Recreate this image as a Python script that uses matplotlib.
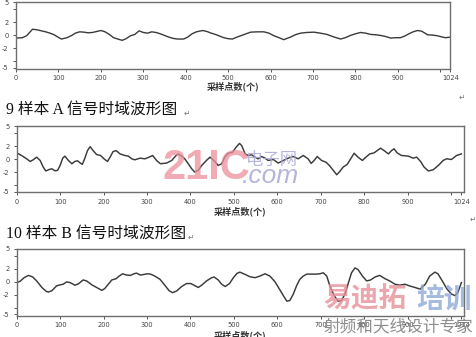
import matplotlib
matplotlib.use('Agg')
import matplotlib.pyplot as plt

# ---------------- data ----------------
x_ticks = [0, 100, 200, 300, 400, 500, 600, 700, 800, 900, 1000, 1024]
x_tick_labels = ['0', '100', '200', '300', '400', '500', '600', '700', '800', '900', '', '1024']
y_ticks = [-5, -4, -2, 0, 2, 4, 5]
y_tick_labels = ['-5', '', '-2', '0', '2', '', '5']

x_label = '采样点数(个)'
caption_a = '9 样本 A 信号时域波形图'
caption_b = '10 样本 B 信号时域波形图'

# top waveform (unlabelled in reference)
x1 = [0, 15, 25, 39, 50, 60, 70, 80, 90, 100, 107, 120, 130, 140, 150, 160, 170, 180, 190, 200,
      210, 220, 230, 240, 250, 258, 270, 280, 290, 300, 310, 320, 330, 340, 350, 360, 370, 380, 395, 405,
      415, 425, 440, 450, 460, 470, 480, 490, 500, 510, 521, 553, 570, 584, 596, 608, 620, 631, 647, 660,
      671, 685, 702, 717, 733, 750, 765, 776, 788, 800, 812, 824, 836, 848, 859, 870, 883, 895, 906, 916,
      926, 936, 946, 956, 970, 982, 993, 1005, 1012, 1024]
y1 = [-0.45, -0.4, -0.1, 0.9, 0.8, 0.65, 0.5, 0.3, 0.05, -0.35, -0.6, -0.4, -0.1, 0.3, 0.5, 0.45, 0.35, 0.4, 0.55, 0.7,
      0.5, 0.1, -0.4, -0.6, -0.8, -0.6, -0.1, 0.1, 0.65, 0.4, 0.3, 0.5, 0.4, 0.2, -0.05, -0.3, -0.5, -0.6, -0.6, -0.3,
      0.2, 0.5, 0.7, 0.55, 0.3, 0.1, -0.15, -0.4, -0.55, -0.6, -0.3, 0.45, 0.5, 0.5, 0.3, -0.1, -0.4, -0.7, -0.3, 0.1,
      0.3, 0.4, 0.45, 0.3, 0.1, -0.3, -0.6, -0.4, -0.05, 0.2, 0.4, 0.3, 0.1, 0.05, -0.05, -0.2, -0.45, -0.4, -0.4, -0.15,
      0.2, 0.5, 0.7, 0.6, 0.05, 0.0, -0.1, -0.3, -0.4, -0.3]

# sample A
x2 = [0, 11, 23, 31, 38, 46, 54, 61, 67, 75, 81, 88, 94, 100, 106, 111, 119, 127, 134, 140,
      146, 151, 157, 163, 169, 176, 184, 193, 201, 209, 215, 222, 229, 238, 249, 257, 265, 272, 284, 295,
      303, 313, 322, 331, 345, 357, 367, 372, 380, 387, 395, 403, 410, 418, 426, 437, 445, 454, 464, 472,
      479, 487, 497, 505, 513, 518, 526, 533, 541, 549, 556, 564, 572, 579, 591, 602, 614, 625, 637, 648,
      660, 671, 678, 685, 692, 702, 712, 720, 729, 737, 744, 752, 761, 769, 777, 786, 796, 804, 813, 823,
      830, 838, 846, 856, 863, 869, 876, 886, 902, 913, 921, 930, 938, 948, 959, 971, 982, 990, 1001, 1013,
      1024]
y2 = [0.96, 0.56, 0.05, -0.35, -0.1, 0.3, -0.2, -1.2, -1.8, -1.57, -1.47, -1.77, -1.72, -0.96, 0.15, 0.46, -0.2, -0.7, -0.35, -0.25,
      -0.56, -0.8, 0.15, 1.3, 1.9, 1.3, 0.7, 0.56, 0.05, -0.35, 0.3, 1.16, 1.3, 0.8, 0.56, 0.46, 0.05, -0.1, 0.15, 0.05,
      0.25, 0.56, -0.2, -0.7, -0.6, -0.2, 0.56, 0.8, 0.46, 0.05, -0.7, -1.47, -1.97, -1.72, -0.96, -0.2, 0.3, -0.2, -0.96, -0.7,
      0.3, 0.9, 1.06, 1.8, 2.4, 2.07, 0.8, 0.56, 0.66, 0.3, 0.05, 0.4, 0.15, -0.2, -0.05, -0.6, -0.2, 0.15, 0.4, 0.05,
      0.56, 0.05, -0.65, -0.2, 0.4, -0.2, -0.46, -0.96, -1.72, -2.38, -1.87, -1.2, -0.8, 0.05, 0.9, 0.3, -0.2, 0.3, 0.8, 0.96,
      1.3, 1.67, 1.3, 0.8, 1.3, 1.57, 0.96, 0.56, 0.46, 0.15, 0.3, -0.35, -1.2, -1.8, -1.62, -0.96, -0.2, 0.05, -0.05, 0.56,
      0.8]

# sample B
x3 = [0, 8, 17, 27, 37, 46, 58, 68, 73, 81, 92, 100, 107, 115, 123, 134, 142, 153, 161, 173,
      184, 196, 203, 211, 219, 229, 236, 244, 253, 262, 270, 276, 285, 293, 301, 308, 318, 330, 341, 351,
      359, 368, 380, 391, 401, 411, 418, 426, 437, 449, 455, 464, 472, 480, 490, 499, 507, 514, 526, 537,
      549, 560, 572, 583, 595, 605, 614, 622, 629, 637, 645, 652, 660, 668, 679, 690, 698, 706, 714, 721,
      731, 740, 748, 756, 764, 771, 779, 786, 796, 806, 815, 825, 836, 848, 859, 871, 882, 894, 904, 917,
      929, 941, 951, 963, 970, 980, 991, 1001, 1009, 1016, 1024]
y3 = [-0.15, 0.05, 0.6, 0.95, 0.7, 0.1, -0.9, -1.5, -1.6, -1.4, -0.65, -0.5, -0.4, -0.05, -0.15, -0.55, -0.35, 0.25, 0.1, -0.5,
      -0.9, -1.35, -1.05, -0.4, 0.25, 0.45, 0.85, 1.2, 1.0, 0.95, 1.2, 1.3, 1.0, 1.1, 1.2, 1.15, 0.85, 0.35, -0.55, -1.4,
      -1.7, -1.45, -0.75, -0.3, -0.3, -0.65, -0.9, -0.55, 0.1, 0.6, 0.7, 0.25, -0.4, -0.75, -0.3, 0.6, 1.25, 1.45, 1.1, 0.75,
      0.6, 0.85, 1.2, 0.85, -0.05, -1.15, -2.15, -3.0, -2.9, -1.9, -0.55, 0.35, 0.85, 1.15, 1.15, 1.15, 1.2, 1.35, 0.85, -0.65,
      -2.15, -3.0, -2.9, -1.9, -0.15, 1.35, 2.1, 1.85, 0.85, 0.1, 0.25, 0.7, 0.95, 0.45, 0.1, -0.4, -0.55, -0.4, -0.65, -0.9,
      -1.15, -0.4, 0.85, 1.45, 1.2, 0.1, -1.15, -1.9, -2.15, -1.65, -0.15]

# ---------------- figure ----------------
W, H = 477, 337
fig = plt.figure(figsize=(W / 100, H / 100), dpi=100)
fig.patch.set_facecolor('white')

CJK = ['Noto Sans CJK SC', 'DejaVu Sans']
MIX = ['Liberation Serif', 'Noto Sans CJK SC', 'DejaVu Sans']


def rect(x0, y0, x1, y1):
    return [x0 / W, 1 - y1 / H, (x1 - x0) / W, (y1 - y0) / H]


def fx(px):
    return px / W


def fy(py):
    return 1 - py / H


def style(ax, xmax, ylim):
    ax.set_xlim(0, xmax)
    ax.set_ylim(*ylim)
    ax.set_xticks(x_ticks)
    ax.set_xticklabels(x_tick_labels)
    ax.set_yticks(y_ticks)
    ax.set_yticklabels(y_tick_labels)
    for s in ax.spines.values():
        s.set_color('#6e6e6e')
        s.set_linewidth(1.0)
    ax.tick_params(axis='both', direction='out', length=2.2, width=0.7, colors='#555555',
                   labelsize=4.8, labelcolor='#444444')
    ax.tick_params(axis='x', pad=2.5)
    ax.tick_params(axis='y', pad=3.0)


line_kw = dict(color='#3a3a3a', solid_joinstyle='round')

ax1 = fig.add_axes(rect(16, 1.7, 450.5, 68.5))
ax1.plot(x1, y1, lw=1.0, **line_kw)
style(ax1, 1024, (-5.1, 5.1))

ax2 = fig.add_axes(rect(16.7, 126, 464, 192.3))
ax2.plot(x2, y2, lw=1.05, **line_kw)
style(ax2, 1030, (-5.05, 5.05))

ax3 = fig.add_axes(rect(16.7, 249, 464, 315.5))
ax3.plot(x3, y3, lw=1.05, **line_kw)
style(ax3, 1030, (-5.2, 5.0))

# x labels
lab_kw = dict(family=CJK, fontsize=6.6, color='#333333', ha='center', va='center', fontweight='bold')
fig.text(fx(233), fy(86), x_label, **lab_kw)
fig.text(fx(240), fy(211), x_label, **lab_kw)
fig.text(fx(240), fy(335), x_label, **lab_kw)

# captions
cap_kw = dict(family=MIX, fontsize=11.3, color='#111111', ha='left', va='center')
fig.text(fx(6), fy(110), caption_a, **cap_kw)
fig.text(fx(6), fy(234), caption_b, **cap_kw)

# paragraph marks
pm_kw = dict(family=['DejaVu Sans'], fontsize=5.5, color='#777777', ha='center', va='center')
for px, py in [(187, 113), (191, 237), (462, 97), (473, 219)]:
    fig.text(fx(px), fy(py), '\u21b5', **pm_kw)

# watermarks
fig.text(fx(206), fy(168), '21IC', family=['Liberation Sans Narrow', 'Liberation Sans', 'DejaVu Sans'],
         fontsize=30, fontweight='bold', color='#eb8f9c', alpha=0.75, ha='center', va='center', zorder=5)
fig.text(fx(272), fy(160), '电子网', family=CJK, fontsize=12.5, color='#a9a9d6', alpha=0.85,
         ha='center', va='center', zorder=5)
fig.text(fx(271), fy(176), '.com', family=['Liberation Sans', 'DejaVu Sans'], fontstyle='italic',
         fontsize=19, color='#a9a9d6', alpha=0.85, ha='center', va='center', zorder=5)
fig.text(fx(323), fy(300), '易迪拓', family=CJK, fontsize=20, fontweight='bold', color='#e8909a',
         alpha=0.8, ha='left', va='center', zorder=5)
fig.text(fx(416), fy(300), '培训', family=CJK, fontsize=20, fontweight='bold', color='#8eaad8',
         alpha=0.8, ha='left', va='center', zorder=5)
fig.text(fx(398), fy(327), '射频和天线设计专家', family=CJK, fontsize=12, color='#7a7a7a',
         alpha=0.85, ha='center', va='center', zorder=5)

fig.savefig('out.png', dpi=100, facecolor='white')
